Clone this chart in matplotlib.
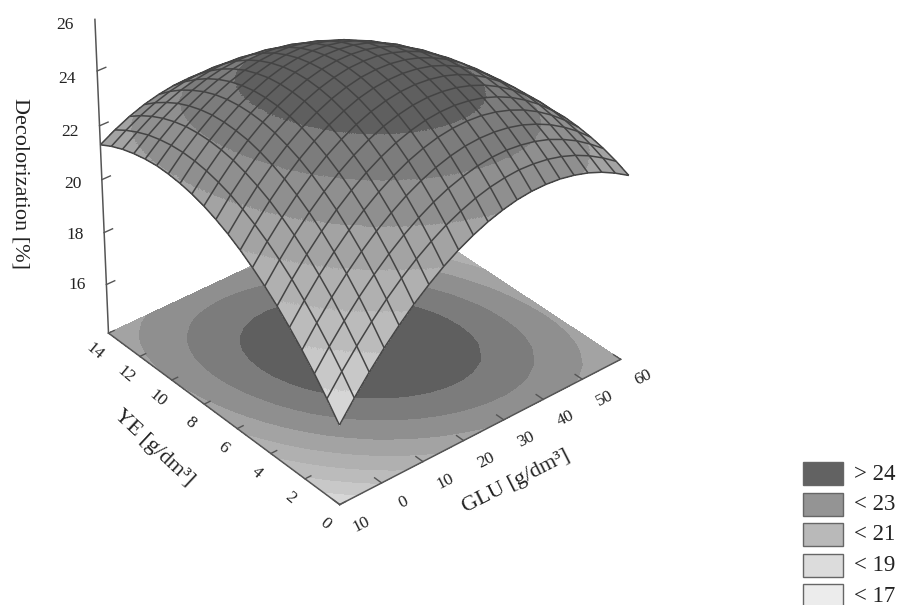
import numpy as np
import matplotlib
matplotlib.use("Agg")
import matplotlib.pyplot as plt
from matplotlib.patches import Rectangle
from mpl_toolkits.mplot3d import proj3d
from mpl_toolkits.mplot3d.art3d import Line3DCollection

plt.rcParams['font.family'] = ['Liberation Serif', 'DejaVu Serif']

glu_nodes = [-10, -6.5, -3, 0.5, 4, 7.5, 11, 14.5, 18, 21.5, 25, 28.5, 32, 35.5, 39, 42.5, 46, 49.5, 53, 56.5, 60]
ye_nodes = [0, 0.7, 1.4, 2.1, 2.8, 3.5, 4.2, 4.9, 5.6, 6.3, 7, 7.7, 8.4, 9.1, 9.8, 10.5, 11.2, 11.9, 12.6, 13.3, 14]
# one row per YE node, GLU across
decolor = [
    [17.10, 17.83, 18.51, 19.13, 19.69, 20.20, 20.65, 21.05, 21.39, 21.67, 21.90, 22.07, 22.19, 22.25, 22.25, 22.20, 22.09, 21.93, 21.71, 21.43, 21.10],
    [17.75, 18.48, 19.15, 19.77, 20.33, 20.83, 21.27, 21.65, 21.98, 22.24, 22.45, 22.60, 22.69, 22.73, 22.70, 22.62, 22.48, 22.28, 22.02, 21.70, 21.33],
    [18.35, 19.08, 19.75, 20.36, 20.91, 21.40, 21.83, 22.20, 22.51, 22.76, 22.94, 23.07, 23.14, 23.15, 23.09, 22.98, 22.81, 22.57, 22.28, 21.92, 21.51],
    [18.90, 19.63, 20.30, 20.90, 21.44, 21.92, 22.33, 22.69, 22.98, 23.21, 23.38, 23.49, 23.53, 23.51, 23.43, 23.29, 23.08, 22.82, 22.49, 22.10, 21.64],
    [19.41, 20.13, 20.79, 21.38, 21.91, 22.38, 22.78, 23.12, 23.40, 23.61, 23.76, 23.84, 23.86, 23.82, 23.71, 23.54, 23.31, 23.01, 22.65, 22.22, 21.73],
    [19.88, 20.59, 21.24, 21.82, 22.34, 22.79, 23.18, 23.50, 23.76, 23.95, 24.08, 24.14, 24.14, 24.07, 23.94, 23.74, 23.48, 23.15, 22.76, 22.30, 21.78],
    [20.29, 20.99, 21.63, 22.20, 22.70, 23.14, 23.51, 23.82, 24.06, 24.23, 24.34, 24.38, 24.35, 24.26, 24.10, 23.88, 23.59, 23.24, 22.81, 22.33, 21.77],
    [20.66, 21.35, 21.97, 22.53, 23.02, 23.44, 23.79, 24.08, 24.30, 24.45, 24.54, 24.56, 24.51, 24.40, 24.22, 23.97, 23.65, 23.27, 22.82, 22.31, 21.72],
    [20.99, 21.66, 22.27, 22.81, 23.28, 23.68, 24.02, 24.28, 24.49, 24.62, 24.68, 24.68, 24.61, 24.48, 24.27, 24.00, 23.66, 23.25, 22.78, 22.24, 21.63],
    [21.27, 21.92, 22.51, 23.03, 23.48, 23.87, 24.18, 24.43, 24.61, 24.73, 24.77, 24.75, 24.66, 24.50, 24.27, 23.98, 23.62, 23.19, 22.69, 22.12, 21.49],
    [21.50, 22.14, 22.70, 23.20, 23.64, 24.00, 24.30, 24.52, 24.68, 24.78, 24.80, 24.76, 24.64, 24.46, 24.22, 23.90, 23.52, 23.06, 22.54, 21.96, 21.30],
    [21.69, 22.30, 22.85, 23.33, 23.74, 24.08, 24.35, 24.56, 24.70, 24.77, 24.77, 24.71, 24.57, 24.37, 24.10, 23.77, 23.36, 22.89, 22.35, 21.74, 21.07],
    [21.83, 22.42, 22.94, 23.39, 23.78, 24.10, 24.35, 24.54, 24.65, 24.70, 24.68, 24.60, 24.45, 24.22, 23.94, 23.58, 23.16, 22.67, 22.11, 21.48, 20.79],
    [21.92, 22.49, 22.98, 23.41, 23.77, 24.07, 24.30, 24.46, 24.55, 24.58, 24.54, 24.43, 24.26, 24.02, 23.71, 23.34, 22.90, 22.39, 21.81, 21.17, 20.46],
    [21.97, 22.51, 22.97, 23.38, 23.71, 23.98, 24.18, 24.32, 24.39, 24.40, 24.34, 24.21, 24.02, 23.76, 23.43, 23.04, 22.58, 22.06, 21.47, 20.81, 20.09],
    [21.98, 22.48, 22.92, 23.29, 23.60, 23.84, 24.02, 24.13, 24.18, 24.16, 24.08, 23.93, 23.72, 23.44, 23.10, 22.69, 22.22, 21.68, 21.08, 20.41, 19.68],
    [21.93, 22.40, 22.81, 23.15, 23.43, 23.64, 23.79, 23.88, 23.90, 23.86, 23.76, 23.59, 23.36, 23.06, 22.70, 22.28, 21.79, 21.24, 20.63, 19.95, 19.21],
    [21.84, 22.28, 22.65, 22.96, 23.20, 23.39, 23.51, 23.57, 23.57, 23.51, 23.38, 23.19, 22.94, 22.63, 22.25, 21.82, 21.32, 20.76, 20.14, 19.45, 18.70],
    [21.71, 22.10, 22.44, 22.71, 22.93, 23.08, 23.17, 23.21, 23.18, 23.09, 22.94, 22.74, 22.47, 22.14, 21.75, 21.30, 20.79, 20.22, 19.59, 18.90, 18.15],
    [21.53, 21.88, 22.18, 22.42, 22.60, 22.72, 22.78, 22.79, 22.73, 22.62, 22.45, 22.22, 21.94, 21.59, 21.19, 20.73, 20.21, 19.63, 18.99, 18.30, 17.55],
    [21.30, 21.61, 21.87, 22.07, 22.21, 22.30, 22.33, 22.31, 22.23, 22.09, 21.90, 21.65, 21.35, 20.99, 20.57, 20.10, 19.57, 18.99, 18.35, 17.65, 16.90],
]

band_edges = [10, 17, 18, 19, 20, 21, 22, 23, 23.9, 30]
band_greys = ['#e2e2e2', '#d6d6d6', '#c8c8c8', '#bbbbbb', '#b0b0b0', '#a3a3a3', '#8f8f8f', '#7c7c7c', '#5f5f5f']
glu_ticks = [-10, 0, 10, 20, 30, 40, 50, 60]
glu_labels = ['10', '0', '10', '20', '30', '40', '50', '60']
ye_ticks = [0, 2, 4, 6, 8, 10, 12, 14]
z_ticks = [16, 18, 20, 22, 24, 26]
legend_labels = ['> 24', '< 23', '< 21', '< 19', '< 17']
legend_greys = ['#626262', '#949494', '#b9b9b9', '#dcdcdc', '#ececec']

Z_BASE = 14.1
Z_TOP = 26.0
AXIS_TOP = 25.85

fig = plt.figure(figsize=(9.01, 6.05), dpi=100)
ax = fig.add_axes([-0.313, -0.240, 1.4, 1.8], projection='3d', computed_zorder=False)
ax.set_axis_off()
ax.set_proj_type('persp', focal_length=0.68)
ax.view_init(elev=33.6, azim=-130)
ax.set_xlim(-10, 60)
ax.set_ylim(0, 14)
ax.set_zlim(Z_BASE, Z_TOP)
ax.set_box_aspect((1, 1, 1.025), zoom=0.581)

def put_label(x, y, z, s, **kw):
    px, py, _ = proj3d.proj_transform(x, y, z, ax.get_proj())
    ax.text2D(px, py, s, transform=ax.transData, ha='center', va='center', color='#222222', fontsize=12.5, **kw)

Zt = np.array(decolor)
X, Y = np.meshgrid(glu_nodes, ye_nodes)
ax.contourf(X, Y, Zt, levels=band_edges, colors=band_greys, zdir='z', offset=Z_BASE, zorder=1)

# finer facets only so the grey bands follow the surface
n_sub = 16
fi = np.linspace(0, 20, 20 * n_sub + 1)
nodes = np.arange(21)
row = np.array([np.interp(fi, nodes, r) for r in Zt])
fine = np.array([np.interp(fi, nodes, c) for c in row.T]).T
XF, YF = np.meshgrid(np.interp(fi, nodes, glu_nodes), np.interp(fi, nodes, ye_nodes))
mid = (fine[:-1, :-1] + fine[1:, 1:] + fine[1:, :-1] + fine[:-1, 1:]) / 4
idx = np.digitize(mid, band_edges) - 1
cols = np.array([matplotlib.colors.to_rgba(c) for c in band_greys])[idx]
ax.plot_surface(XF, YF, fine, rstride=1, cstride=1, facecolors=cols, shade=False,
                linewidth=0, antialiased=False, zorder=2)

# mesh lines, leaving out cells turned away from the viewer
sx, sy, _ = proj3d.proj_transform(X.ravel(), Y.ravel(), Zt.ravel(), ax.get_proj())
sx = sx.reshape(X.shape)
sy = sy.reshape(X.shape)
area = ((sx[:-1, 1:] - sx[:-1, :-1]) * (sy[1:, :-1] - sy[:-1, :-1])
        - (sy[:-1, 1:] - sy[:-1, :-1]) * (sx[1:, :-1] - sx[:-1, :-1]))
front = area > 0
segs = []
for j in range(21):
    for i in range(20):
        if (j < 20 and front[j, i]) or (j > 0 and front[j - 1, i]):
            segs.append([(X[j, i], Y[j, i], Zt[j, i]), (X[j, i + 1], Y[j, i + 1], Zt[j, i + 1])])
for i in range(21):
    for j in range(20):
        if (i < 20 and front[j, i]) or (i > 0 and front[j, i - 1]):
            segs.append([(X[j, i], Y[j, i], Zt[j, i]), (X[j + 1, i], Y[j + 1, i], Zt[j + 1, i])])
ax.add_collection3d(Line3DCollection(segs, colors='#444444', linewidths=1.1, zorder=3))

# axis lines
axc = '#555555'
ax.plot([-10, 60], [0, 0], [Z_BASE, Z_BASE], color=axc, lw=1.1, zorder=4)
ax.plot([-10, -10], [0, 14], [Z_BASE, Z_BASE], color=axc, lw=1.1, zorder=4)
ax.plot([-10, -10], [14, 14], [Z_BASE, AXIS_TOP], color=axc, lw=1.1, zorder=4)

for t, s in zip(glu_ticks, glu_labels):
    ax.plot([t, t], [0, 0.4], [Z_BASE, Z_BASE], color=axc, lw=1, zorder=4)
    put_label(t, -1.25, Z_BASE - 0.15, s, rotation=27)
for t in ye_ticks:
    ax.plot([-10, -8.6], [t, t], [Z_BASE, Z_BASE], color=axc, lw=1, zorder=4)
    put_label(-13.5, t, Z_BASE - 0.45, str(t), rotation=-40)
for t in z_ticks:
    if t < 26:
        ax.plot([-10, -8], [14, 14], [t, t], color=axc, lw=1, zorder=4)
    put_label(-14.3, 14.71, t - (t - 16) * 0.035, str(t))

fig.text(20 / 901, 1 - 183 / 605, 'Decolorization [%]', fontsize=16, rotation=270, ha='center', va='center', color='#222222')
fig.text(516 / 901, 1 - 482 / 605, 'GLU [g/dm³]', fontsize=16, rotation=27, ha='center', va='center', color='#222222')
fig.text(154 / 901, 1 - 448 / 605, 'YE [g/dm³]', fontsize=16, rotation=-43, ha='center', va='center', color='#222222')

for k, (lab, g) in enumerate(zip(legend_labels, legend_greys)):
    top = 462 + 30.5 * k
    fig.add_artist(Rectangle((803 / 901, 1 - (top + 23) / 605), 40 / 901, 23 / 605, transform=fig.transFigure,
                             facecolor=g, edgecolor='#666666', lw=1))
    fig.text(854 / 901, 1 - (top + 12) / 605, lab, fontsize=16.5, ha='left', va='center', color='#222222')

fig.savefig('out.png', dpi=100)
